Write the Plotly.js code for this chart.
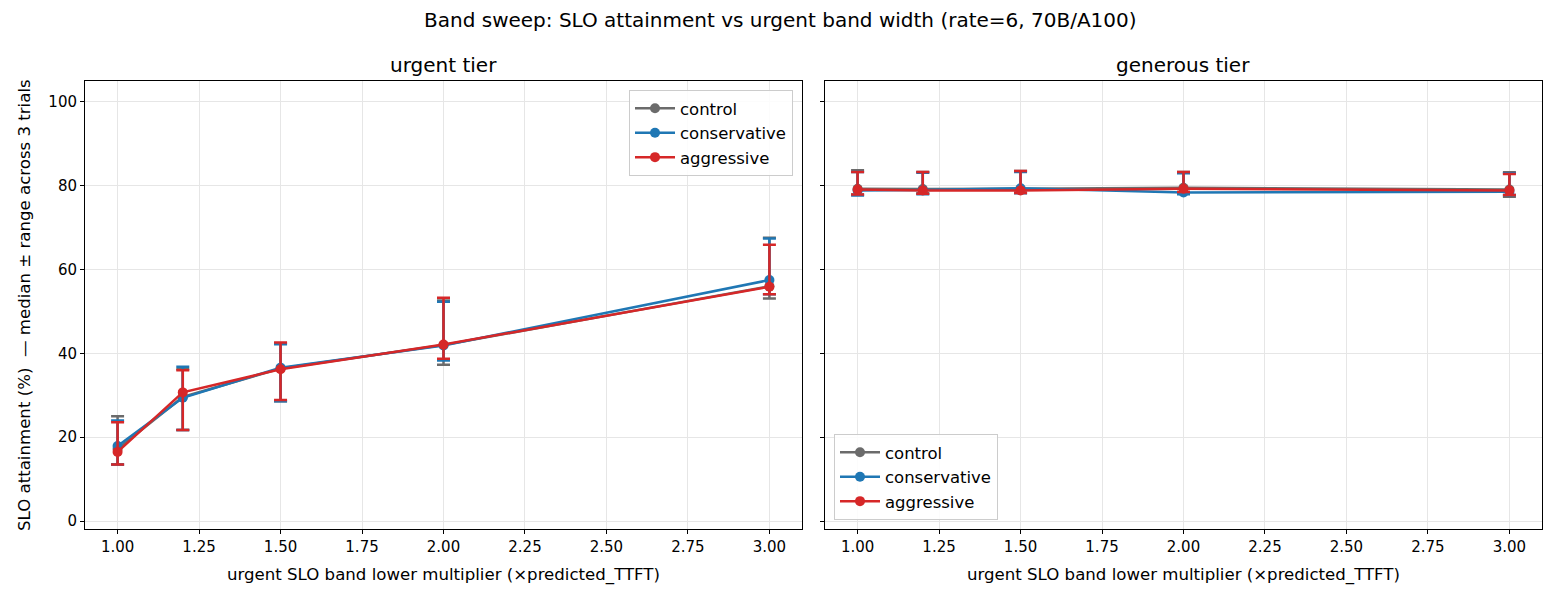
<!DOCTYPE html>
<html>
<head>
<meta charset="utf-8">
<script src="https://cdn.plot.ly/plotly-3.0.1.min.js"></script>
<style>html,body{margin:0;padding:0;background:#fff;}</style>
</head>
<body>
<div id="chart" style="width:1560px;height:600px;"></div>
<script>
// ---- data ----
const multipliers = [1.0, 1.2, 1.5, 2.0, 3.0];
const seriesNames = ["control", "conservative", "aggressive"];
const seriesColors = ["#6b6b6b", "#1f77b4", "#d62728"];

// urgent tier: median, high, low
const urgentControlMed = [17.2, 29.6, 36.4, 42.0, 56.0];
const urgentControlHi  = [25.0, 36.2, 42.4, 52.6, 67.6];
const urgentControlLo  = [13.5, 21.7, 28.6, 37.3, 53.1];
const urgentConsMed = [17.9, 29.4, 36.6, 41.9, 57.5];
const urgentConsHi  = [24.0, 36.8, 42.2, 52.3, 67.4];
const urgentConsLo  = [13.5, 21.7, 28.6, 38.3, 54.1];
const urgentAggrMed = [16.5, 30.7, 36.2, 42.1, 55.9];
const urgentAggrHi  = [23.6, 36.0, 42.6, 53.3, 65.9];
const urgentAggrLo  = [13.5, 21.7, 28.9, 38.7, 54.1];

// generous tier
const genControlMed = [79.3, 79.2, 79.3, 79.5, 79.1];
const genControlHi  = [83.7, 83.3, 83.5, 83.3, 83.2];
const genControlLo  = [77.9, 78.2, 78.4, 78.5, 77.4];
const genConsMed = [78.9, 79.0, 79.4, 78.4, 78.6];
const genConsHi  = [83.3, 83.1, 83.3, 83.0, 83.0];
const genConsLo  = [77.7, 78.0, 78.2, 78.0, 77.8];
const genAggrMed = [79.1, 78.9, 78.9, 79.3, 78.9];
const genAggrHi  = [83.3, 83.3, 83.5, 83.3, 82.8];
const genAggrLo  = [77.9, 78.1, 78.3, 78.5, 77.8];

const xTickVals = [1.0, 1.25, 1.5, 1.75, 2.0, 2.25, 2.5, 2.75, 3.0];
const yTickVals = [0, 20, 40, 60, 80, 100];

// ---- build traces ----
const FONT = "DejaVu Sans, sans-serif";
function mk(name, color, med, hi, lo, xa, ya, leg) {
  return {
    type: "scatter", mode: "lines+markers", name: name,
    x: multipliers, y: med, xaxis: xa, yaxis: ya, legend: leg,
    line: {color: color, width: 2.5},
    marker: {color: color, size: 10, symbol: "circle"},
    error_y: {type: "data", symmetric: false,
      array: hi.map((h, i) => h - med[i]),
      arrayminus: med.map((m, i) => m - lo[i]),
      color: color, thickness: 2.5, width: 6.5}
  };
}
const urgent = [[urgentControlMed, urgentControlHi, urgentControlLo],
                [urgentConsMed, urgentConsHi, urgentConsLo],
                [urgentAggrMed, urgentAggrHi, urgentAggrLo]];
const generous = [[genControlMed, genControlHi, genControlLo],
                  [genConsMed, genConsHi, genConsLo],
                  [genAggrMed, genAggrHi, genAggrLo]];
const traces = [];
urgent.forEach((s, i) => traces.push(mk(seriesNames[i], seriesColors[i], s[0], s[1], s[2], "x", "y", "legend")));
generous.forEach((s, i) => traces.push(mk(seriesNames[i], seriesColors[i], s[0], s[1], s[2], "x2", "y2", "legend2")));

const W = 1560, H = 600;
const axBase = {
  showline: true, mirror: true, linecolor: "#000", linewidth: 1,
  ticks: "outside", ticklen: 4, tickwidth: 1, tickcolor: "#000",
  showgrid: true, gridcolor: "#e6e6e6", gridwidth: 1, zeroline: false,
  tickfont: {family: FONT, size: 15, color: "#000"}, automargin: false
};
const xAx = (dom, anchor) => Object.assign({}, axBase, {
  domain: dom, anchor: anchor, range: [0.9, 3.1],
  tickmode: "array", tickvals: xTickVals, ticktext: xTickVals.map(v => v.toFixed(2))
});
const yAx = (anchor, labels) => Object.assign({}, axBase, {
  domain: [1 - 529 / H, 1 - 81 / H], anchor: anchor, range: [-1.9, 105],
  tickmode: "array", tickvals: yTickVals, showticklabels: labels
});
const legBase = {
  bgcolor: "rgba(255,255,255,0.85)", bordercolor: "#cccccc", borderwidth: 1,
  font: {family: FONT, size: 16.5, color: "#000"}, tracegroupgap: 0, itemwidth: 40
};
const ann = (text, x, y, size, rot) => ({
  text: text, x: x / W, y: 1 - y / H, xref: "paper", yref: "paper",
  showarrow: false, xanchor: "center", yanchor: "middle", textangle: rot || 0,
  font: {family: FONT, size: size, color: "#000"}
});
const layout = {
  width: W, height: H, margin: {l: 0, r: 0, t: 0, b: 0},
  paper_bgcolor: "#fff", plot_bgcolor: "#fff",
  font: {family: FONT, color: "#000"},
  xaxis: xAx([85 / W, 802 / W], "y"),
  yaxis: yAx("x", true),
  xaxis2: xAx([825 / W, 1542 / W], "y2"),
  yaxis2: Object.assign(yAx("x2", false), {matches: "y"}),
  legend: Object.assign({}, legBase, {x: 793 / W, y: 1 - 90 / H, xanchor: "right", yanchor: "top"}),
  legend2: Object.assign({}, legBase, {x: 834 / W, y: 1 - 520 / H, xanchor: "left", yanchor: "bottom"}),
  annotations: [
    ann("Band sweep: SLO attainment vs urgent band width (rate=6, 70B/A100)", 780, 20, 20),
    ann("urgent tier", 443, 65, 20),
    ann("generous tier", 1183, 65, 20),
    ann("urgent SLO band lower multiplier (×predicted_TTFT)", 443, 575, 16.6),
    ann("urgent SLO band lower multiplier (×predicted_TTFT)", 1183, 575, 16.6),
    ann("SLO attainment (%) \u00a0— median ± range across 3 trials", 24, 305, 16.6, -90)
  ]
};
Plotly.newPlot("chart", traces, layout, {staticPlot: true, displayModeBar: false});
</script>
</body>
</html>
